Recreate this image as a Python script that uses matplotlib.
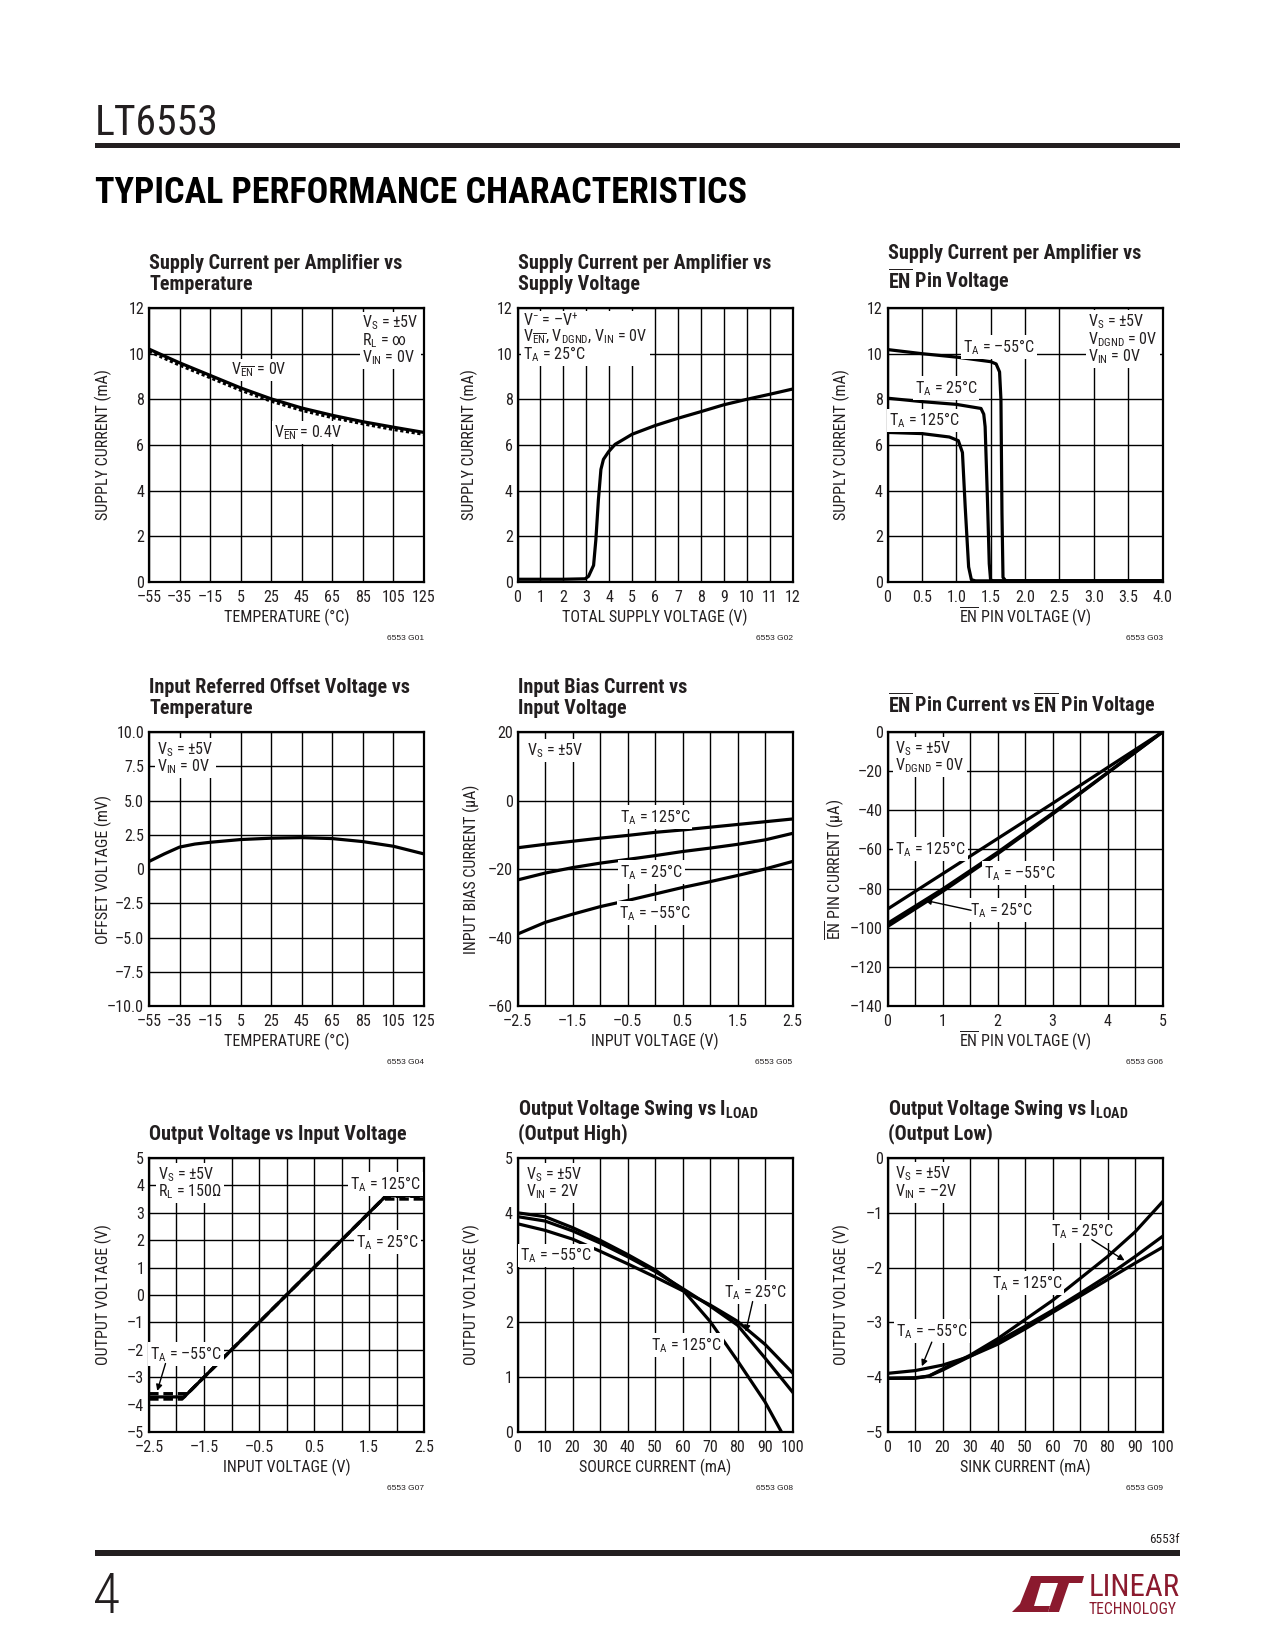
import matplotlib
matplotlib.use('Agg')
import matplotlib.pyplot as plt
import matplotlib.font_manager as fm
from matplotlib.patches import Polygon, Rectangle

# pick a narrow sans with static regular + bold files (datasheet look)
FONTS = fm.fontManager.ttflist


def has(name, wt):
    return any(f.name == name and f.weight in (wt, str(wt)) and '[' not in f.fname for f in FONTS)


BASE, STRETCH = 'DejaVu Sans', 'normal'
for cand in ['Roboto Condensed', 'Liberation Sans Narrow', 'PT Sans Narrow',
             'Barlow Semi Condensed', 'Asap Condensed', 'Encode Sans Condensed']:
    if has(cand, 400) and has(cand, 700):
        BASE = cand
        break
else:
    if any(f.name == 'DejaVu Sans' and f.stretch == 'condensed' for f in FONTS):
        STRETCH = 'condensed'

plt.rcParams['font.family'] = [BASE, 'DejaVu Sans']
plt.rcParams['font.stretch'] = STRETCH
plt.rcParams['mathtext.fontset'] = 'custom'
plt.rcParams['mathtext.rm'] = BASE
plt.rcParams['mathtext.it'] = BASE
plt.rcParams['mathtext.bf'] = BASE + ':bold'
plt.rcParams['mathtext.default'] = 'regular'
SCALE = 1.0 if BASE != 'DejaVu Sans' else 0.85

INK = '#231f20'
RED = '#8b1a2e'

# ---------------- data ----------------
# G01 supply current vs temperature
g1_temp = [-55, -35, -15, 5, 25, 45, 65, 85, 105, 125]
g1_en_0v = [10.2, 9.6, 9.05, 8.5, 8.02, 7.62, 7.3, 7.02, 6.78, 6.55]
g1_en_04v = [10.1, 9.5, 8.95, 8.4, 7.92, 7.52, 7.2, 6.93, 6.68, 6.47]

# G02 supply current vs total supply voltage
g2_vs = [0, 1, 2, 2.95, 3.1, 3.32, 3.42, 3.53, 3.64, 3.75, 3.97, 4.26, 4.55, 5, 6, 7, 8, 9, 10, 11, 12]
g2_is = [0.12, 0.12, 0.12, 0.14, 0.25, 0.73, 1.86, 3.6, 4.93, 5.37, 5.7, 6.03, 6.2, 6.47, 6.85, 7.17,
         7.46, 7.76, 8.0, 8.22, 8.45]

# G03 supply current vs EN pin voltage
g3_v_m55 = [0, 0.5, 1.0, 1.5, 1.58, 1.63, 1.65, 1.665, 1.68, 1.72, 4.0]
g3_i_m55 = [10.18, 10.0, 9.85, 9.65, 9.55, 9.2, 8.0, 3.0, 0.2, 0.05, 0.05]
g3_v_25 = [0, 0.5, 1.0, 1.36, 1.40, 1.42, 1.455, 1.48, 1.5, 1.54, 4.0]
g3_i_25 = [8.05, 7.9, 7.78, 7.6, 7.35, 6.8, 3.5, 0.8, 0.08, 0.05, 0.05]
g3_v_125 = [0, 0.5, 0.9, 1.03, 1.09, 1.13, 1.18, 1.22, 1.28, 4.0]
g3_i_125 = [6.55, 6.5, 6.35, 6.19, 5.67, 3.3, 0.66, 0.1, 0.05, 0.05]

# G04 offset voltage vs temperature
g4_temp = [-55, -45, -35, -25, -15, 5, 25, 45, 65, 85, 105, 125]
g4_vos = [0.55, 1.1, 1.6, 1.82, 1.95, 2.15, 2.25, 2.29, 2.22, 2.0, 1.66, 1.1]

# G05 input bias current vs input voltage
g5_vin = [-2.5, -2.0, -1.5, -1.0, -0.5, 0, 0.5, 1.0, 1.5, 2.0, 2.5]
g5_125 = [-13.8, -12.8, -11.9, -11.0, -10.2, -9.3, -8.6, -7.8, -7.0, -6.2, -5.4]
g5_25 = [-23.2, -21.2, -19.6, -18.3, -17.2, -16.1, -14.9, -13.9, -12.8, -11.5, -9.6]
g5_m55 = [-39.0, -35.6, -33.2, -31.0, -29.2, -27.3, -25.4, -23.7, -21.9, -20.0, -17.8]

# G06 EN pin current vs EN pin voltage
g6_v = [0, 1, 2, 3, 4, 5]
g6_125 = [-90.5, -72.5, -54.5, -36.5, -18.2, 0]
g6_m55 = [-97.8, -80.3, -61.5, -41.5, -20.8, 0]
g6_25 = [-99.4, -81.5, -62.3, -42.0, -21.0, 0]

# G07 output voltage vs input voltage
g7_vin_25 = [-2.5, -1.86, 1.81, 2.5]
g7_out_25 = [-3.72, -3.72, 3.62, 3.62]
g7_vin_125 = [-2.5, -1.8, 1.75, 2.5]
g7_out_125 = [-3.6, -3.6, 3.5, 3.5]
g7_vin_m55 = [-2.5, -1.9, 1.8, 2.5]
g7_out_m55 = [-3.8, -3.8, 3.6, 3.6]

# G08 output swing high vs source current
g8_i = [0, 10, 20, 30, 40, 50, 60, 70, 80, 90, 100]
g8_i_125 = [0, 10, 20, 30, 40, 50, 60, 70, 80, 90, 96]
g8_125 = [4.0, 3.93, 3.73, 3.5, 3.24, 2.96, 2.6, 2.02, 1.3, 0.55, 0.0]
g8_25 = [3.93, 3.85, 3.67, 3.45, 3.2, 2.93, 2.62, 2.3, 1.95, 1.35, 0.73]
g8_m55 = [3.8, 3.68, 3.52, 3.3, 3.07, 2.83, 2.58, 2.32, 2.02, 1.6, 1.08]

# G09 output swing low vs sink current
g9_i = [0, 10, 15, 20, 30, 40, 50, 60, 70, 80, 90, 100]
g9_125 = [-4.02, -4.02, -3.98, -3.85, -3.6, -3.3, -2.95, -2.6, -2.2, -1.8, -1.35, -0.8]
g9_25 = [-4.02, -4.01, -3.98, -3.87, -3.62, -3.35, -3.07, -2.78, -2.47, -2.15, -1.8, -1.43]
g9_i_m55 = [0, 10, 20, 30, 40, 50, 60, 70, 80, 90, 100]
g9_m55 = [-3.93, -3.88, -3.78, -3.62, -3.4, -3.12, -2.82, -2.52, -2.22, -1.92, -1.63]

# tick labels
temp_ticks = [-55, -35, -15, 5, 25, 45, 65, 85, 105, 125]
temp_labels = ['–55', '–35', '–15', '5', '25', '45', '65', '85', '105', '125']
cur12_ticks = [0, 2, 4, 6, 8, 10, 12]
en_v_ticks = [0, 0.5, 1.0, 1.5, 2.0, 2.5, 3.0, 3.5, 4.0]
en_v_labels = ['0', '0.5', '1.0', '1.5', '2.0', '2.5', '3.0', '3.5', '4.0']
vos_ticks = [-10, -7.5, -5, -2.5, 0, 2.5, 5, 7.5, 10]
vos_labels = ['–10.0', '–7.5', '–5.0', '–2.5', '0', '2.5', '5.0', '7.5', '10.0']
vin_ticks = [-2.5, -1.5, -0.5, 0.5, 1.5, 2.5]
vin_labels = ['–2.5', '–1.5', '–0.5', '0.5', '1.5', '2.5']
vin_grid = [-2.5, -2, -1.5, -1, -0.5, 0, 0.5, 1, 1.5, 2, 2.5]
ma_ticks = [0, 10, 20, 30, 40, 50, 60, 70, 80, 90, 100]


def lab(v):
    return str(v).replace('-', '–')


# ---------------- page layout (pixels) ----------------
W, H = 1275, 1650
fig = plt.figure(figsize=(W / 100, H / 100), dpi=100)
fig.patch.set_facecolor('white')

COLS = [149, 517.5, 887.5]
ROWS = [308, 732, 1158]
AW, AH = 275, 274


def fx(x):
    return x / W


def fy(y):
    return 1 - y / H


def make_ax(c, r):
    return fig.add_axes([fx(COLS[c]), fy(ROWS[r] + AH), AW / W, AH / H])


def style(ax, xlim, ylim, xt, xl, xg, yt, yl, yg, xlabel, ylabel, title, code, yoff=46):
    ax.set_xlim(xlim)
    ax.set_ylim(ylim)
    ax.set_xticks(xg, minor=True)
    ax.set_yticks(yg, minor=True)
    ax.set_xticks(xt, xl)
    ax.set_yticks(yt, yl)
    ax.grid(True, which='both', color='black', lw=1.0)
    ax.set_axisbelow(True)
    ax.tick_params(which='both', length=0, labelsize=11.5 * SCALE, colors=INK)
    ax.tick_params(axis='x', pad=5.5)
    ax.tick_params(axis='y', pad=3.5)
    for s in ax.spines.values():
        s.set_linewidth(1.6)
        s.set_color('black')
    ax.set_xlabel(xlabel, fontsize=11.5 * SCALE, color=INK)
    ax.set_ylabel(ylabel, fontsize=11.5 * SCALE, color=INK)
    ax.xaxis.set_label_coords(0.5, -35 / AH)
    ax.xaxis.label.set_va('center')
    ax.yaxis.set_label_coords(-yoff / AW, 0.5)
    ax.yaxis.label.set_va('center')
    ax.text(0.0, 1 + 14 / AH, title, transform=ax.transAxes, ha='left', va='bottom',
            fontsize=14.5 * SCALE, fontweight='bold', color=INK, linespacing=1.15)
    ax.text(1.0, -56 / AH, code, transform=ax.transAxes, ha='right', va='center',
            fontsize=6, family='Liberation Sans', color=INK)


def note(ax, x, y, s, ha='left', va='top'):
    ax.text(x, y, s, ha=ha, va=va, fontsize=11.5 * SCALE, color=INK, linespacing=0.9,
            bbox=dict(facecolor='white', edgecolor='none', pad=1.5), zorder=5)


def arrow(ax, head, tail):
    ax.annotate('', xy=head, xytext=tail,
                arrowprops=dict(arrowstyle='-|>', color='black', lw=1.0,
                                mutation_scale=9, shrinkA=0, shrinkB=0), zorder=5)


LW = 2.3
VS = r'V$_{S}$ = ±5V'
EN = r'$\overline{EN}$'

# ---------- G01 ----------
ax = make_ax(0, 0)
ax.plot(g1_temp, g1_en_0v, color='black', lw=LW)
ax.plot(g1_temp, g1_en_04v, color='black', lw=LW, ls=(0, (1.0, 0.8)))
style(ax, (-55, 125), (0, 12), temp_ticks, temp_labels, temp_ticks, cur12_ticks,
      [lab(v) for v in cur12_ticks], cur12_ticks, 'TEMPERATURE (°C)', 'SUPPLY CURRENT (mA)',
      'Supply Current per Amplifier vs\nTemperature', '6553 G01')
note(ax, 84.6, 11.75, VS + '\n' + r'R$_{L}$ = ∞' + '\n' + r'V$_{IN}$ = 0V')
note(ax, 16.8, 9.28, r'V$_{\overline{EN}}$ = 0V', ha='center', va='center')
note(ax, 49.3, 6.54, r'V$_{\overline{EN}}$ = 0.4V', ha='center', va='center')

# ---------- G02 ----------
ax = make_ax(1, 0)
ax.plot(g2_vs, g2_is, color='black', lw=LW)
v12 = list(range(13))
style(ax, (0, 12), (0, 12), v12, [lab(v) for v in v12], v12, cur12_ticks,
      [lab(v) for v in cur12_ticks], cur12_ticks, 'TOTAL SUPPLY VOLTAGE (V)', 'SUPPLY CURRENT (mA)',
      'Supply Current per Amplifier vs\nSupply Voltage', '6553 G02', yoff=48)
note(ax, 0.25, 11.85, r'V$^{-}$ = –V$^{+}$' + '\n' + r'V$_{\overline{EN}}$, V$_{DGND}$, V$_{IN}$ = 0V'
     + '\n' + r'T$_{A}$ = 25°C')

# ---------- G03 ----------
ax = make_ax(2, 0)
ax.plot(g3_v_m55, g3_i_m55, color='black', lw=LW)
ax.plot(g3_v_25, g3_i_25, color='black', lw=LW)
ax.plot(g3_v_125, g3_i_125, color='black', lw=LW)
style(ax, (0, 4), (0, 12), en_v_ticks, en_v_labels, en_v_ticks, cur12_ticks,
      [lab(v) for v in cur12_ticks], cur12_ticks, EN + ' PIN VOLTAGE (V)', 'SUPPLY CURRENT (mA)',
      'Supply Current per Amplifier vs\n' + EN + ' Pin Voltage', '6553 G03')
note(ax, 2.92, 11.8, VS + '\n' + r'V$_{DGND}$ = 0V' + '\n' + r'V$_{IN}$ = 0V')
note(ax, 1.62, 10.3, r'T$_{A}$ = –55°C', ha='center', va='center')
note(ax, 0.85, 8.5, r'T$_{A}$ = 25°C', ha='center', va='center')
note(ax, 0.54, 7.07, r'T$_{A}$ = 125°C', ha='center', va='center')

# ---------- G04 ----------
ax = make_ax(0, 1)
ax.plot(g4_temp, g4_vos, color='black', lw=LW)
style(ax, (-55, 125), (-10, 10), temp_ticks, temp_labels, temp_ticks, vos_ticks, vos_labels,
      vos_ticks, 'TEMPERATURE (°C)', 'OFFSET VOLTAGE (mV)',
      'Input Referred Offset Voltage vs\nTemperature', '6553 G04')
note(ax, -49.5, 9.4, VS + '\n' + r'V$_{IN}$ = 0V')

# ---------- G05 ----------
ax = make_ax(1, 1)
ax.plot(g5_vin, g5_125, color='black', lw=LW)
ax.plot(g5_vin, g5_25, color='black', lw=LW)
ax.plot(g5_vin, g5_m55, color='black', lw=LW)
ib_ticks = [-60, -40, -20, 0, 20]
style(ax, (-2.5, 2.5), (-60, 20), vin_ticks, vin_labels, vin_grid, ib_ticks,
      [lab(v) for v in ib_ticks], ib_ticks, 'INPUT VOLTAGE (V)', 'INPUT BIAS CURRENT (μA)',
      'Input Bias Current vs\nInput Voltage', '6553 G05')
note(ax, -2.33, 17.3, VS)
note(ax, 0.0, -4.9, r'T$_{A}$ = 125°C', ha='center', va='center')
note(ax, -0.06, -20.8, r'T$_{A}$ = 25°C', ha='center', va='center')
note(ax, 0.0, -32.9, r'T$_{A}$ = –55°C', ha='center', va='center')

# ---------- G06 ----------
ax = make_ax(2, 1)
ax.plot(g6_v, g6_125, color='black', lw=LW)
ax.plot(g6_v, g6_m55, color='black', lw=LW)
ax.plot(g6_v, g6_25, color='black', lw=LW)
en_i_ticks = [-140, -120, -100, -80, -60, -40, -20, 0]
en_grid = [0, 0.5, 1, 1.5, 2, 2.5, 3, 3.5, 4, 4.5, 5]
en_int = [0, 1, 2, 3, 4, 5]
style(ax, (0, 5), (-140, 0), en_int, [lab(v) for v in en_int], en_grid,
      en_i_ticks, [lab(v) for v in en_i_ticks], en_i_ticks,
      EN + ' PIN VOLTAGE (V)', EN + ' PIN CURRENT (μA)',
      EN + ' Pin Current vs ' + EN + ' Pin Voltage', '6553 G06', yoff=52)
note(ax, 0.14, -3.7, VS + '\n' + r'V$_{DGND}$ = 0V')
note(ax, 0.78, -59.8, r'T$_{A}$ = 125°C', ha='center', va='center')
note(ax, 2.41, -71.9, r'T$_{A}$ = –55°C', ha='center', va='center')
note(ax, 2.06, -91.1, r'T$_{A}$ = 25°C', ha='center', va='center')
arrow(ax, (0.68, -86.0), (1.52, -91.1))

# ---------- G07 ----------
ax = make_ax(0, 2)
ax.plot(g7_vin_25, g7_out_25, color='black', lw=LW)
ax.plot(g7_vin_125, g7_out_125, color='black', lw=LW, ls=(0, (3, 1.5)))
ax.plot(g7_vin_m55, g7_out_m55, color='black', lw=LW, ls=(0, (3, 1.5)))
out_ticks = [-5, -4, -3, -2, -1, 0, 1, 2, 3, 4, 5]
style(ax, (-2.5, 2.5), (-5, 5), vin_ticks, vin_labels, vin_grid, out_ticks,
      [lab(v) for v in out_ticks], out_ticks, 'INPUT VOLTAGE (V)',
      'OUTPUT VOLTAGE (V)', 'Output Voltage vs Input Voltage', '6553 G07')
note(ax, -2.33, 4.75, VS + '\n' + r'R$_{L}$ = 150Ω')
note(ax, 1.8, 4.05, r'T$_{A}$ = 125°C', ha='center', va='center')
note(ax, 1.83, 1.94, r'T$_{A}$ = 25°C', ha='center', va='center')
note(ax, -1.83, -2.15, r'T$_{A}$ = –55°C', ha='center', va='center')
arrow(ax, (-2.35, -3.5), (-2.2, -2.5))

# ---------- G08 ----------
ax = make_ax(1, 2)
ax.plot(g8_i_125, g8_125, color='black', lw=LW)
ax.plot(g8_i, g8_25, color='black', lw=LW)
ax.plot(g8_i, g8_m55, color='black', lw=LW)
oh_ticks = [0, 1, 2, 3, 4, 5]
style(ax, (0, 100), (0, 5), ma_ticks, [lab(v) for v in ma_ticks], ma_ticks, oh_ticks,
      [lab(v) for v in oh_ticks], oh_ticks, 'SOURCE CURRENT (mA)', 'OUTPUT VOLTAGE (V)',
      'Output Voltage Swing vs I$_{LOAD}$\n(Output High)', '6553 G08')
note(ax, 3.0, 4.87, VS + '\n' + r'V$_{IN}$ = 2V')
note(ax, 14.0, 3.22, r'T$_{A}$ = –55°C', ha='center', va='center')
note(ax, 86.3, 2.56, r'T$_{A}$ = 25°C', ha='center', va='center')
note(ax, 61.4, 1.59, r'T$_{A}$ = 125°C', ha='center', va='center')
arrow(ax, (83.0, 1.83), (85.5, 2.38))

# ---------- G09 ----------
ax = make_ax(2, 2)
ax.plot(g9_i, g9_125, color='black', lw=LW)
ax.plot(g9_i, g9_25, color='black', lw=LW)
ax.plot(g9_i_m55, g9_m55, color='black', lw=LW)
ol_ticks = [-5, -4, -3, -2, -1, 0]
style(ax, (0, 100), (-5, 0), ma_ticks, [lab(v) for v in ma_ticks], ma_ticks, ol_ticks,
      [lab(v) for v in ol_ticks], ol_ticks, 'SINK CURRENT (mA)',
      'OUTPUT VOLTAGE (V)', 'Output Voltage Swing vs I$_{LOAD}$\n(Output Low)', '6553 G09')
note(ax, 2.8, -0.12, VS + '\n' + r'V$_{IN}$ = –2V')
note(ax, 70.7, -1.34, r'T$_{A}$ = 25°C', ha='center', va='center')
note(ax, 50.7, -2.28, r'T$_{A}$ = 125°C', ha='center', va='center')
note(ax, 16.1, -3.16, r'T$_{A}$ = –55°C', ha='center', va='center')
arrow(ax, (86.2, -1.87), (74.3, -1.49))
arrow(ax, (12.5, -3.8), (16.1, -3.36))

# ---------------- page furniture ----------------
rend = fig.canvas.get_renderer()


def fit(t, width):
    w = t.get_window_extent(rend).width
    t.set_fontsize(t.get_fontsize() * width / w)


part = fig.text(fx(95), fy(135), 'LT6553', fontsize=33, color=INK, ha='left', va='baseline')
fit(part, 124)

fig.patches.append(Rectangle((fx(95), fy(148)), fx(1180) - fx(95), 5 / H,
                             transform=fig.transFigure, color=INK, lw=0))

hdr = fig.text(fx(95), fy(203), 'TYPICAL PERFORMANCE CHARACTERISTICS', fontsize=26,
               fontweight='heavy', color='black', ha='left', va='baseline')
fit(hdr, 653)

fig.text(fx(1180), fy(1543), '6553f', fontsize=9.5 * SCALE, color=INK, ha='right', va='baseline')
fig.patches.append(Rectangle((fx(95), fy(1556)), fx(1180) - fx(95), 6 / H,
                             transform=fig.transFigure, color=INK, lw=0))
fig.text(fx(93), fy(1613), '4', fontsize=40, color=INK, ha='left', va='baseline',
         fontweight='light')


# Linear Technology logo (rough)
def poly(pts):
    fig.patches.append(Polygon([(fx(x), fy(y)) for x, y in pts], closed=True,
                               transform=fig.transFigure, color=RED, lw=0))


poly([(1031, 1576), (1043, 1576), (1034, 1606), (1050, 1606), (1048, 1612), (1012, 1612),
      (1020, 1604)])
poly([(1041, 1576), (1084, 1576), (1082, 1583), (1069, 1583), (1059, 1612), (1048, 1612),
      (1058, 1583), (1039, 1583)])
lin = fig.text(fx(1089), fy(1596), 'LINEAR', fontsize=20, color=RED, ha='left', va='baseline')
fit(lin, 91)
tec = fig.text(fx(1089), fy(1614), 'TECHNOLOGY', fontsize=7, color=RED, ha='left', va='baseline')
fit(tec, 88)

fig.savefig('out.png', dpi=100, facecolor='white')
